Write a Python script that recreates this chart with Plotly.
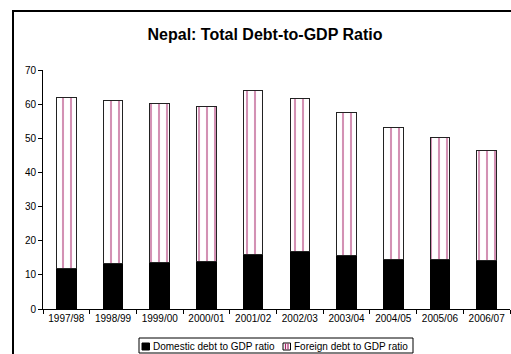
import plotly.graph_objects as go

years = ["1997/98", "1998/99", "1999/00", "2000/01", "2001/02",
         "2002/03", "2003/04", "2004/05", "2005/06", "2006/07"]
domestic = [11.9, 13.4, 13.5, 13.8, 16.1, 16.8, 15.7, 14.6, 14.6, 14.3]
total = [61.9, 61.0, 60.2, 59.3, 64.0, 61.8, 57.6, 53.2, 50.1, 46.5]
foreign = [round(t - d, 1) for t, d in zip(total, domestic)]
series_names = ["Domestic debt to GDP ratio", "Foreign debt to GDP ratio"]

FONT = "Liberation Sans, Arial, sans-serif"
PINK = "#a8246a"

fig = go.Figure()
fig.add_trace(go.Bar(
    x=years, y=domestic, name=series_names[0],
    marker=dict(color="black", line=dict(color="black", width=1)),
    width=0.42,
))
fig.add_trace(go.Bar(
    x=years, y=foreign, name=series_names[1],
    marker=dict(color="white",
                line=dict(color="#222222", width=1),
                pattern=dict(shape="|", fgcolor=PINK, bgcolor="white",
                             size=8, solidity=0.26, fillmode="overlay")),
    width=0.42,
))

L, R, T, B, W, H = 43, 1, 70, 45, 511, 354
PW = W - L - R
PH = H - T - B


def px(x):
    return (x - L) / PW


def py(y):
    return (H - B - y) / PH


fig.update_layout(
    width=W, height=H,
    barmode="stack",
    paper_bgcolor="white", plot_bgcolor="white",
    margin=dict(l=L, r=R, t=T, b=B),
    font=dict(family=FONT, size=10, color="black"),
    title=dict(text="<b>Nepal: Total Debt-to-GDP Ratio</b>",
               font=dict(family=FONT, size=16, color="black"),
               x=265/W, xref="container", xanchor="center",
               y=1-34/H, yref="container", yanchor="middle"),
    showlegend=False,
)
fig.update_xaxes(
    type="category", showline=True, linecolor="black", linewidth=1,
    ticks="outside", tickson="boundaries", ticklen=4, tickcolor="black",
    showgrid=False, tickfont=dict(size=10),
)
fig.update_yaxes(
    range=[0, 70], dtick=10, showline=True, linecolor="black", linewidth=1,
    ticks="outside", ticklen=4, tickcolor="black", showgrid=False,
    zeroline=False, tickfont=dict(size=10),
)
# outer chart frame
fig.add_shape(type="rect", xref="paper", yref="paper",
              x0=px(13), x1=px(530), y0=py(380), y1=py(11),
              line=dict(color="black", width=2), fillcolor="rgba(0,0,0,0)",
              layer="above")
# custom legend
fig.add_shape(type="rect", xref="paper", yref="paper",
              x0=px(139), x1=px(413), y0=py(353), y1=py(338),
              line=dict(color="black", width=1), fillcolor="white")
fig.add_shape(type="rect", xref="paper", yref="paper",
              x0=px(142), x1=px(149.5), y0=py(350), y1=py(343),
              line=dict(color="black", width=1), fillcolor="black")
fig.add_shape(type="rect", xref="paper", yref="paper",
              x0=px(283), x1=px(290.5), y0=py(350), y1=py(343),
              line=dict(color="black", width=1), fillcolor="white")
for sx in (285.5, 288.0):
    fig.add_shape(type="line", xref="paper", yref="paper",
                  x0=px(sx), x1=px(sx), y0=py(349.5), y1=py(343.5),
                  line=dict(color=PINK, width=1.2))
fig.add_annotation(text=series_names[0], xref="paper", yref="paper",
                   x=px(150.5), y=py(346), xanchor="left", yanchor="middle",
                   showarrow=False, font=dict(size=10))
fig.add_annotation(text=series_names[1], xref="paper", yref="paper",
                   x=px(291.5), y=py(346), xanchor="left", yanchor="middle",
                   showarrow=False, font=dict(size=10))

fig.write_html("out.html")
